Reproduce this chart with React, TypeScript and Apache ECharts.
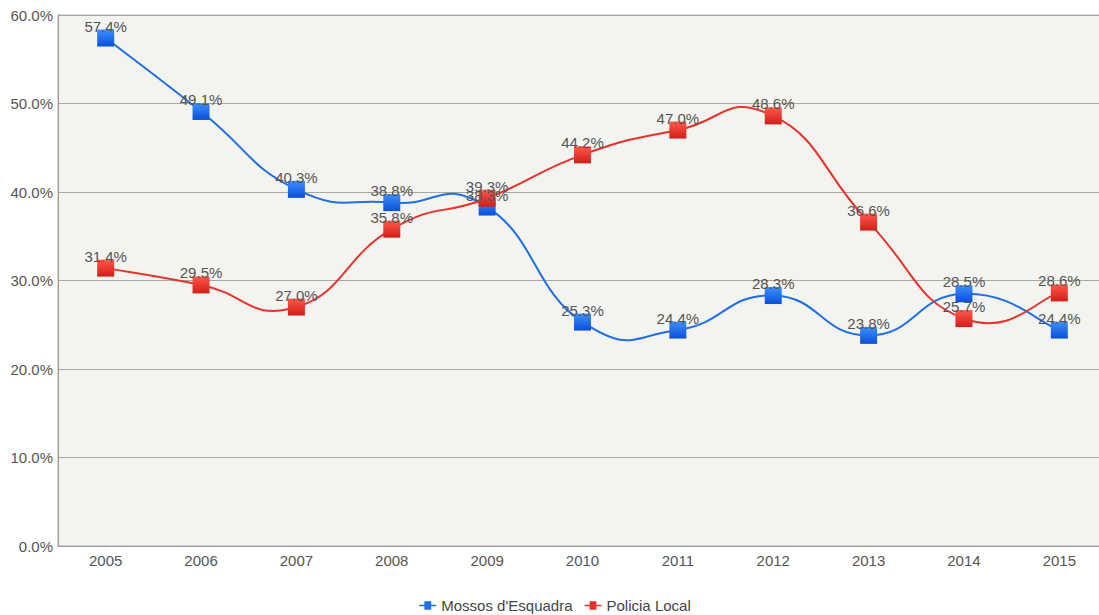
import React, { useEffect, useRef } from "react";
import * as echarts from "echarts";

const years = ["2005", "2006", "2007", "2008", "2009", "2010", "2011", "2012", "2013", "2014", "2015"];
const mossos = [57.4, 49.1, 40.3, 38.8, 38.3, 25.3, 24.4, 28.3, 23.8, 28.5, 24.4];
const policia = [31.4, 29.5, 27.0, 35.8, 39.3, 44.2, 47.0, 48.6, 36.6, 25.7, 28.6];
const seriesNames = ["Mossos d'Esquadra", "Policia Local"];

const FONT = "'Liberation Sans', Arial, sans-serif";
const BLUE = "#1f6fe6";
const RED = "#e8322c";

function grad(light: string, dark: string) {
  return new echarts.graphic.LinearGradient(0, 0, 0, 1, [
    { offset: 0, color: light },
    { offset: 1, color: dark },
  ]);
}

function splinePath(pts: number[][]) {
  const k = 0.25;
  let d = `M${pts[0][0]},${pts[0][1]}`;
  for (let i = 0; i < pts.length - 1; i++) {
    const p0 = pts[Math.max(0, i - 1)];
    const p1 = pts[i];
    const p2 = pts[i + 1];
    const p3 = pts[Math.min(pts.length - 1, i + 2)];
    const c1x = p1[0] + (p2[0] - p0[0]) * k;
    const c1y = p1[1] + (p2[1] - p0[1]) * k;
    const c2x = p2[0] - (p3[0] - p1[0]) * k;
    const c2y = p2[1] - (p3[1] - p1[1]) * k;
    d += ` C${c1x},${c1y} ${c2x},${c2y} ${p2[0]},${p2[1]}`;
  }
  return d;
}

export default function App() {
  const ref = useRef<HTMLDivElement>(null);
  useEffect(() => {
    document.body.style.margin = "0";
    const chart = echarts.init(ref.current!, null, { renderer: "svg" });
    const curve = (data: number[], color: string) => ({
      type: "custom",
      silent: true,
      z: 2,
      clip: false,
      data: [[0, data[0]]],
      renderItem: (_params: any, api: any) => {
        const pts = data.map((v, i) => api.coord([i, v]));
        return {
          type: "path",
          shape: { pathData: splinePath(pts) },
          style: { fill: "none", stroke: color, lineWidth: 2 },
        };
      },
    });
    const mk = (name: string, data: number[], light: string, dark: string) => ({
      name,
      type: "line",
      data,
      z: 3,
      symbol: "rect",
      symbolSize: 17,
      lineStyle: { opacity: 0, width: 0 },
      itemStyle: { color: grad(light, dark), borderWidth: 0 },
      label: {
        show: true,
        position: "top",
        distance: -4,
        formatter: (p: any) => p.value.toFixed(1) + "%",
        color: "#555",
        fontFamily: FONT,
        fontSize: 15,
      },
      emphasis: { disabled: true },
    });
    const icon = "path://M0,4 L6,4 L6,0 L14,0 L14,4 L20,4 L20,6 L14,6 L14,10 L6,10 L6,6 L0,6 Z";
    chart.setOption({
      animation: false,
      backgroundColor: "#ffffff",
      grid: {
        left: 58,
        top: 15,
        right: 3,
        height: 531,
        show: true,
        backgroundColor: "#f3f3ef",
        borderColor: "#b0b0a8",
        borderWidth: 1,
      },
      legend: {
        top: 593,
        left: "center",
        itemWidth: 17,
        itemHeight: 11,
        itemGap: 12,
        textStyle: { color: "#444", fontFamily: FONT, fontSize: 15 },
        data: [
          { name: seriesNames[0], icon, itemStyle: { color: BLUE } },
          { name: seriesNames[1], icon, itemStyle: { color: RED } },
        ],
      },
      xAxis: {
        type: "category",
        data: years,
        boundaryGap: true,
        axisLine: { show: true, lineStyle: { color: "#999" } },
        axisTick: { show: false },
        axisLabel: { color: "#555", fontFamily: FONT, fontSize: 15, margin: 7 },
      },
      yAxis: {
        type: "value",
        min: 0,
        max: 60,
        interval: 10,
        axisLine: { show: true, lineStyle: { color: "#999" } },
        axisTick: { show: false },
        splitLine: { lineStyle: { color: "#a8a8a0", width: 1 } },
        axisLabel: {
          color: "#555",
          fontFamily: FONT,
          fontSize: 15,
          margin: 5,
          formatter: (v: number) => v.toFixed(1) + "%",
        },
      },
      series: [
        curve(mossos, BLUE),
        curve(policia, RED),
        mk(seriesNames[0], mossos, "#3d90ff", "#0b4fd6"),
        mk(seriesNames[1], policia, "#ff5a4a", "#d01e18"),
      ],
    });
    return () => chart.dispose();
  }, []);
  return (
    <div style={{ width: 1099, height: 615, overflow: "hidden" }}>
      <div ref={ref} style={{ width: 1110, height: 615 }} />
    </div>
  );
}
